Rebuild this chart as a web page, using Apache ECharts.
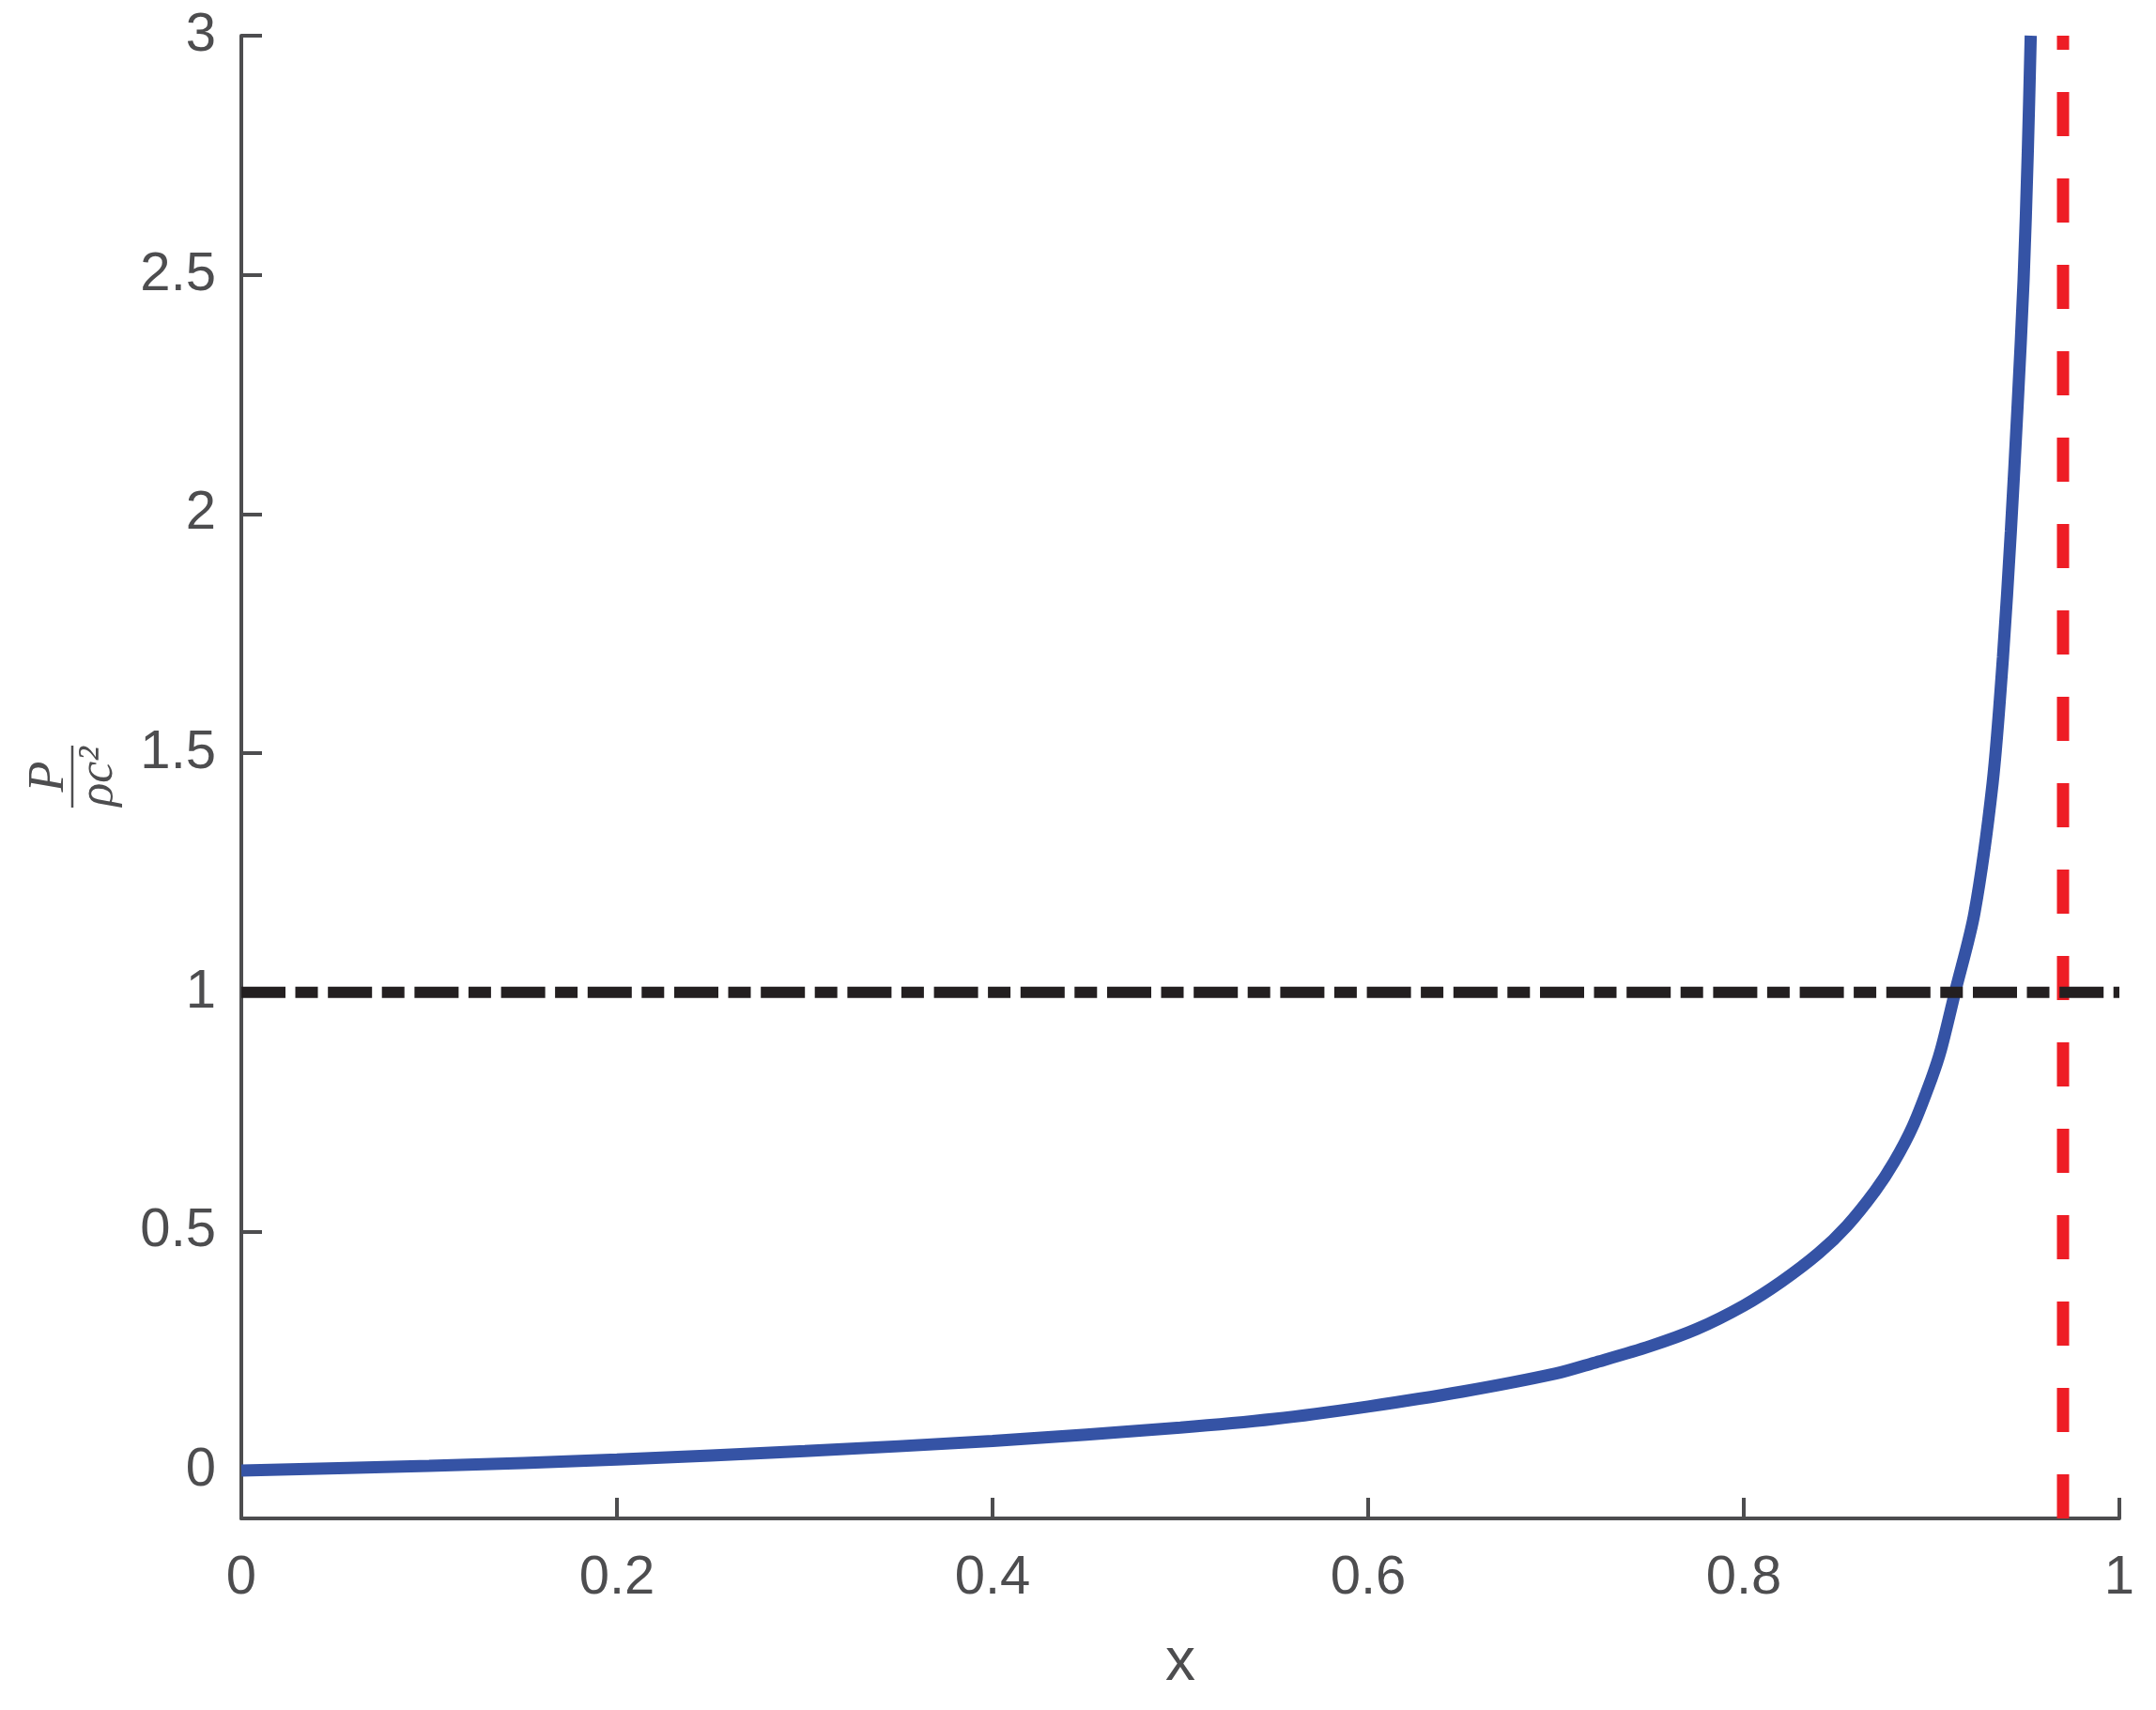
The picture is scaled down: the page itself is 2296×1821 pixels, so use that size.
<!DOCTYPE html>
<html>
<head>
    <meta charset="utf-8">
    <script src="https://cdn.jsdelivr.net/npm/echarts@6/dist/echarts.min.js"></script>
    <style type="text/css">
        html, body { width: 100%; height: 100%; margin: 0; background: #fff; }
        #chart { width: 2296px; height: 1821px; }
    </style>
</head>
<body>
<div id="chart"></div>
<script type="text/javascript">
    // values
    var xValues = [0, 0.1, 0.2, 0.3, 0.4, 0.5, 0.55, 0.6, 0.65, 0.7, 0.72, 0.75, 0.775, 0.8, 0.82, 0.84,
        0.855, 0.87, 0.88, 0.89, 0.9, 0.905, 0.9125, 0.9228, 0.9325, 0.938, 0.9422, 0.9458, 0.949, 0.9512, 0.9528];
    var pressureValues = [0, 0.010, 0.023, 0.041, 0.062, 0.090, 0.108, 0.134, 0.165, 0.203, 0.225, 0.260, 0.296, 0.345, 0.395, 0.455,
        0.512, 0.585, 0.645, 0.720, 0.820, 0.880, 1.0, 1.165, 1.437, 1.70, 1.963, 2.226, 2.489, 2.752, 3.0];
    var asymptoteX = 0.97;
    var refLevel = 1;
    var xRange = [0, 1];
    var yRange = [-0.1, 3];
    var yTicks = [0, 0.5, 1, 1.5, 2, 2.5, 3];

    var axisColor = '#4d4d4f';

    var curve = xValues.map(function (x, i) { return [x, pressureValues[i]]; });

    var chart = echarts.init(document.getElementById('chart'));
    chart.setOption({
        animation: false,
        backgroundColor: '#fff',
        grid: { left: 257, top: 38, right: 39, bottom: 204 },
        xAxis: {
            type: 'value',
            min: xRange[0],
            max: xRange[1],
            interval: 0.2,
            name: 'x',
            nameLocation: 'middle',
            nameGap: 122,
            nameTextStyle: { color: axisColor, fontSize: 64, fontFamily: 'Liberation Sans' },
            splitLine: { show: false },
            axisLine: { onZero: false, lineStyle: { color: axisColor, width: 4 } },
            axisTick: { inside: true, length: 22, lineStyle: { color: axisColor, width: 4 } },
            axisLabel: { color: axisColor, fontSize: 58, fontFamily: 'Liberation Sans', margin: 35 }
        },
        yAxis: {
            type: 'value',
            min: yRange[0],
            max: yRange[1],
            splitLine: { show: false },
            axisLine: { onZero: false, lineStyle: { color: axisColor, width: 4 } },
            axisTick: { inside: true, length: 22, customValues: yTicks, lineStyle: { color: axisColor, width: 4 } },
            axisLabel: {
                color: axisColor, fontSize: 58, fontFamily: 'Liberation Sans', margin: 27,
                customValues: yTicks, padding: [8, 0, 0, 0]
            }
        },
        graphic: [{
            type: 'group',
            x: 77,
            y: 827,
            rotation: Math.PI / 2,
            children: [
                {
                    type: 'text', x: 0, y: -24,
                    style: { text: 'P', fill: axisColor, font: 'italic 54px "Liberation Serif"', align: 'center', verticalAlign: 'middle' }
                },
                {
                    type: 'line',
                    shape: { x1: -33, y1: 0, x2: 33, y2: 0 },
                    style: { stroke: axisColor, lineWidth: 2.5 }
                },
                {
                    type: 'text', x: 0, y: 28,
                    style: { text: 'ρc²', fill: axisColor, font: 'italic 52px "Liberation Serif"', align: 'center', verticalAlign: 'middle' }
                }
            ]
        }],
        series: [
            {
                type: 'line',
                data: curve,
                symbol: 'none',
                smooth: 0.3,
                lineStyle: { color: '#3553a5', width: 13 }
            },
            {
                type: 'line',
                data: [[asymptoteX, yRange[0]], [asymptoteX, yRange[1]]],
                symbol: 'none',
                lineStyle: { color: '#ee1d25', width: 13, type: [47, 45], cap: 'butt' }
            },
            {
                type: 'line',
                data: [[xRange[0], refLevel], [xRange[1], refLevel]],
                symbol: 'none',
                lineStyle: { color: '#231f20', width: 12, type: [47, 10.5, 24, 10.7], cap: 'butt' }
            }
        ]
    });
</script>
</body>
</html>
